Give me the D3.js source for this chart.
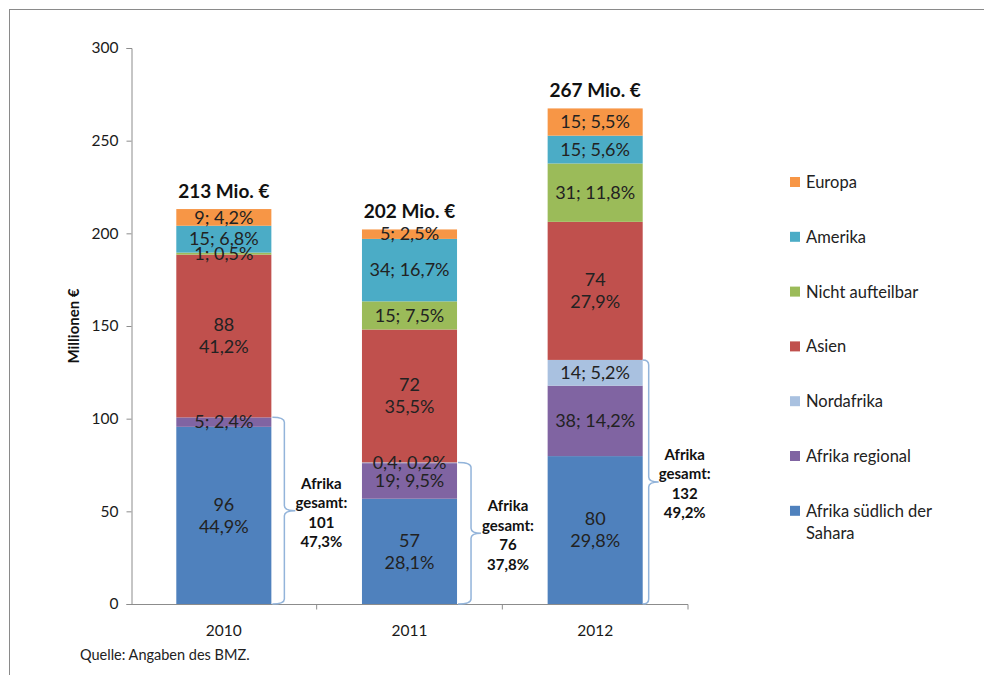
<!DOCTYPE html>
<html>
<head>
<meta charset="utf-8">
<script src="https://cdn.jsdelivr.net/npm/d3@7/dist/d3.min.js"></script>
<style>
  html, body { margin: 0; padding: 0; background: #fff; }
  svg { display: block; font-family: Lato, "Open Sans", sans-serif; }
</style>
</head>
<body>
<svg id="chart" width="984" height="675"></svg>
<script>
// ---- data ----
const years = ["2010", "2011", "2012"];
const seriesNames = ["Afrika südlich der Sahara", "Afrika regional", "Nordafrika", "Asien", "Nicht aufteilbar", "Amerika", "Europa"];
const afrikaSued      = [95.6, 56.8, 79.8];
const afrikaRegional  = [5.1, 19.2, 38.0];
const nordafrika      = [0, 0.4, 13.9];
const asien           = [87.8, 71.7, 74.5];
const nichtAufteilbar = [1.1, 15.2, 31.5];
const amerika         = [14.5, 33.7, 15.0];
const europa          = [9.0, 5.1, 14.7];

const lblAfrikaSued      = ["96\n44,9%", "57\n28,1%", "80\n29,8%"];
const lblAfrikaRegional  = ["5; 2,4%", "19; 9,5%", "38; 14,2%"];
const lblNordafrika      = [null, "0,4; 0,2%", "14; 5,2%"];
const lblAsien           = ["88\n41,2%", "72\n35,5%", "74\n27,9%"];
const lblNichtAufteilbar = ["1; 0,5%", "15; 7,5%", "31; 11,8%"];
const lblAmerika         = ["15; 6,8%", "34; 16,7%", "15; 5,6%"];
const lblEuropa          = ["9; 4,2%", "5; 2,5%", "15; 5,5%"];

const totalLabels   = ["213 Mio. €", "202 Mio. €", "267 Mio. €"];
const afrikaGesamt  = ["101", "76", "132"];
const afrikaPercent = ["47,3%", "37,8%", "49,2%"];
const yTicks = [0, 50, 100, 150, 200, 250, 300];
const colors = ["#4F81BD", "#8064A2", "#A9C1E0", "#C0504D", "#9BBB59", "#4BACC6", "#F79646"];

// ---- build ----
const valuesBySeries = [afrikaSued, afrikaRegional, nordafrika, asien, nichtAufteilbar, amerika, europa];
const labelsBySeries = [lblAfrikaSued, lblAfrikaRegional, lblNordafrika, lblAsien, lblNichtAufteilbar, lblAmerika, lblEuropa];
const table = years.map((yr, i) => {
  const row = { year: yr };
  seriesNames.forEach((s, k) => row[s] = valuesBySeries[k][i]);
  return row;
});
const stacked = d3.stack().keys(seriesNames)(table);

const svg = d3.select("#chart");
// frame
svg.append("rect").attr("x", 9.5).attr("y", 9.5).attr("width", 1000).attr("height", 700)
  .attr("fill", "none").attr("stroke", "#8a8a8a").attr("stroke-width", 1);

const x = d3.scaleBand().domain(years).range([131, 688]).paddingInner(0.488).paddingOuter(0.244);
const y = d3.scaleLinear().domain([0, 300]).range([604, 48]);
const axisColor = "#8c8c8c";
const textColor = "#222";

// y axis
const yAxis = svg.append("g").attr("transform", "translate(131.5,0)")
  .call(d3.axisLeft(y).tickValues(yTicks).tickSize(5).tickPadding(8).tickFormat(d3.format("d")));
yAxis.select(".domain").attr("stroke", axisColor);
yAxis.selectAll(".tick line").attr("stroke", axisColor);
yAxis.selectAll(".tick text").attr("fill", "#1a1a1a").style("font-size", "15.5px").style("font-family", "Lato");

// x axis
const xAxisG = svg.append("g").attr("transform", "translate(0,604.5)");
xAxisG.append("line").attr("x1", 131).attr("x2", 688).attr("stroke", axisColor);
const boundaries = years.map((d) => x(d) + x.bandwidth() / 2 + x.step() / 2);
xAxisG.selectAll(".xt").data(boundaries).enter().append("line")
  .attr("x1", d => d).attr("x2", d => d).attr("y1", 0).attr("y2", 5).attr("stroke", axisColor);
xAxisG.selectAll(".xl").data(years).enter().append("text")
  .attr("x", d => x(d) + x.bandwidth() / 2).attr("y", 31)
  .attr("text-anchor", "middle").attr("fill", "#1a1a1a").style("font-size", "15.5px").text(d => d);

// y axis title
svg.append("text").attr("transform", "translate(79," + y(150) + ") rotate(-90)")
  .attr("text-anchor", "middle").attr("fill", "#111")
  .style("font-size", "15px").style("font-weight", "bold").text("Millionen €");

// bars
const layers = svg.append("g").selectAll("g").data(stacked).enter().append("g")
  .attr("fill", (d, k) => colors[k]);
layers.selectAll("rect").data(d => d).enter().append("rect")
  .attr("x", d => x(d.data.year)).attr("width", x.bandwidth())
  .attr("y", d => y(d[1])).attr("height", d => y(d[0]) - y(d[1]));

// data labels
stacked.forEach((layer, k) => {
  layer.forEach((d, i) => {
    const lbl = labelsBySeries[k][i];
    if (!lbl) return;
    const cx = x(d.data.year) + x.bandwidth() / 2;
    const cy = (y(d[0]) + y(d[1])) / 2;
    const lines = lbl.split("\n");
    const lh = 22;
    const t = svg.append("text").attr("text-anchor", "middle").attr("fill", textColor).style("font-size", "18px");
    lines.forEach((ln, j) => {
      t.append("tspan").attr("x", cx).attr("y", cy + (j - (lines.length - 1) / 2) * lh).attr("dy", "0.35em").text(ln);
    });
  });
});

// totals
const topLayer = stacked[stacked.length - 1];
topLayer.forEach((d, i) => {
  svg.append("text").attr("x", x(d.data.year) + x.bandwidth() / 2).attr("y", y(d[1]) - 11)
    .attr("text-anchor", "middle").attr("fill", "#111").style("font-size", "19px").style("font-weight", "bold")
    .text(totalLabels[i]);
});

// braces + Afrika gesamt
const braceGeom = [[1, 13, 24, 50], [1, 14, 24, 51], [0, 6, 16, 42]];
const africaTop = stacked[2];
africaTop.forEach((d, i) => {
  const right = x(d.data.year) + x.bandwidth();
  const [o0, o1, ot, otext] = braceGeom[i];
  const x0 = right + o0, x1 = right + o1, xt = right + ot;
  const yT = y(d[1]), yB = y(0), ym = (yT + yB) / 2, r = 5;
  const p = d3.path();
  p.moveTo(x0, yT);
  p.quadraticCurveTo(x1, yT, x1, yT + r);
  p.lineTo(x1, ym - r);
  p.quadraticCurveTo(x1, ym, xt, ym);
  p.quadraticCurveTo(x1, ym, x1, ym + r);
  p.lineTo(x1, yB - r);
  p.quadraticCurveTo(x1, yB, x0, yB);
  svg.append("path").attr("d", p.toString()).attr("fill", "none").attr("stroke", "#93B4DA").attr("stroke-width", 1.5);
  const lines = ["Afrika", "gesamt:", afrikaGesamt[i], afrikaPercent[i]];
  const t = svg.append("text").attr("text-anchor", "middle").attr("fill", "#111")
    .style("font-size", "15px").style("font-weight", "bold");
  lines.forEach((ln, j) => {
    t.append("tspan").attr("x", right + otext).attr("y", ym + 2 + (j - 1.5) * 19.5).attr("dy", "0.35em").text(ln);
  });
});

// legend
const legendOrder = seriesNames.map((s, k) => k).reverse();
legendOrder.forEach((k, idx) => {
  const cy = 183 + idx * 54.8;
  svg.append("rect").attr("x", 790).attr("y", cy - 6).attr("width", 10).attr("height", 10).attr("fill", colors[k]);
  const name = seriesNames[k];
  const parts = name === "Afrika südlich der Sahara" ? ["Afrika südlich der", "Sahara"] : [name];
  const t = svg.append("text").attr("fill", textColor).style("font-size", "16.5px");
  parts.forEach((ln, j) => {
    t.append("tspan").attr("x", 806).attr("y", cy + j * 22).attr("dy", "0.3em").text(ln);
  });
});

// source
svg.append("text").attr("x", 80).attr("y", 660).attr("fill", textColor).style("font-size", "14.5px")
  .text("Quelle: Angaben des BMZ.");
</script>
</body>
</html>
